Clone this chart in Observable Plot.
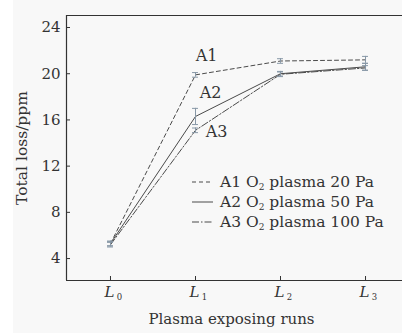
<!DOCTYPE html>
<html><head><meta charset="utf-8">
<script src="https://cdn.jsdelivr.net/npm/d3@7"></script>
<script src="https://cdn.jsdelivr.net/npm/@observablehq/plot@0.6"></script>
<style>
body{margin:0;background:#fff;font-family:"DejaVu Serif",serif;}
#wrap{position:relative;width:402px;height:333px;background:linear-gradient(to right,#fff 0,#fff 13px,#f8f8f8 13px);}
#legend{position:absolute;left:192px;top:172px;font-size:15.5px;color:#333;line-height:20px;}
#legend .row{display:flex;align-items:center;white-space:nowrap;}
#legend svg{margin-right:7px;}
sub{font-size:9px;vertical-align:-3px;line-height:0;}
</style></head><body>
<div id="wrap"><div id="chart"></div><div id="legend"></div></div>
<script>
const runs = [0, 1, 2, 3];
const runSubs = ["0", "1", "2", "3"];
const seriesNames = ["A1", "A2", "A3"];
const legendLabels = [["A1 O", "2", " plasma 20 Pa"], ["A2 O", "2", " plasma 50 Pa"], ["A3 O", "2", " plasma 100 Pa"]];
const a1 = [5.3, 19.9, 21.1, 21.2];
const a2 = [5.3, 16.3, 20.0, 20.6];
const a3 = [5.2, 15.1, 19.95, 20.5];
const a1err = [0.2, 0.2, 0.2, 0.3];
const a2err = [0.2, 0.7, 0.2, 0.3];
const a3err = [0.2, 0.2, 0.2, 0.2];
const yTicks = [4, 8, 12, 16, 20, 24];

const dashes = {A1: "4,3", A2: null, A3: "7,2,1.5,2"};
const vals = {A1: a1, A2: a2, A3: a3};
const errs = {A1: a1err, A2: a2err, A3: a3err};
const rows = seriesNames.flatMap(s => runs.map((r, i) => ({s, x: r, y: vals[s][i], e: errs[s][i]})));

const xDom = [-0.5176, 3.435];
const yDom = [2.1, 25.04];
const ink = "#333";
const lineInk = "#4a4a4a";
const errInk = "#8797a6";
const capW = 0.035;

const labelOff = {A1: [11, -19], A2: [15, -24], A3: [21, 2]};

const marks = [
  ...seriesNames.map(s => Plot.line(rows.filter(d => d.s === s), {x: "x", y: "y", stroke: lineInk, strokeWidth: 1, strokeDasharray: dashes[s]})),
  Plot.ruleX(rows, {x: "x", y1: d => d.y - d.e, y2: d => d.y + d.e, stroke: errInk, strokeWidth: 1}),
  Plot.ruleY(rows, {y: d => d.y - d.e, x1: d => d.x - capW, x2: d => d.x + capW, stroke: errInk, strokeWidth: 1}),
  Plot.ruleY(rows, {y: d => d.y + d.e, x1: d => d.x - capW, x2: d => d.x + capW, stroke: errInk, strokeWidth: 1}),
  ...seriesNames.map(s => Plot.text([s], {x: () => 1, y: () => vals[s][1], text: d => d, dx: labelOff[s][0], dy: labelOff[s][1], fontSize: 16, fill: ink, textAnchor: "middle"})),
  Plot.axisY(yTicks, {tickSize: -4, tickPadding: 10, fontSize: 15, color: ink, label: null}),
  Plot.axisX(runs, {tickSize: -4, tickFormat: () => "", label: null, color: ink}),
  Plot.text(runs, {x: d => d, frameAnchor: "bottom", dy: 16, dx: -1, text: () => "L", fontStyle: "italic", fontSize: 15, fill: ink}),
  Plot.text(runs, {x: d => d, frameAnchor: "bottom", dy: 19, dx: 9, text: (d, i) => runSubs[i], fontSize: 8.5, fill: ink}),
  Plot.ruleX([xDom[0]], {stroke: ink, strokeWidth: 1.2}),
  Plot.ruleY([yDom[0]], {stroke: ink, strokeWidth: 1.2}),
  Plot.ruleY([yDom[1]], {stroke: ink, strokeWidth: 1.2}),
  Plot.text(["Plasma exposing runs"], {frameAnchor: "bottom", dy: 43, dx: -3, text: d => d, fontSize: 15, fill: ink}),
  Plot.text(["Total loss/ppm"], {frameAnchor: "left", dx: -44, rotate: -90, textAnchor: "middle", text: d => d, fontSize: 15.5, fill: ink})
];

const chart = Plot.plot({
  width: 402, height: 333,
  marginLeft: 66, marginRight: 0, marginTop: 15, marginBottom: 53,
  style: {background: "transparent", fontFamily: "'DejaVu Serif', serif"},
  x: {type: "linear", domain: xDom, axis: null},
  y: {domain: yDom, axis: null},
  marks
});
document.getElementById("chart").appendChild(chart);

const leg = document.getElementById("legend");
seriesNames.forEach((s, i) => {
  const row = document.createElement("div");
  row.className = "row";
  const da = dashes[s] ? `stroke-dasharray="${dashes[s]}"` : "";
  row.innerHTML = `<svg width="21" height="10"><line x1="0" x2="21" y1="5" y2="5" stroke="${lineInk}" stroke-width="1" ${da}/></svg><span>${legendLabels[i][0]}<sub>${legendLabels[i][1]}</sub>${legendLabels[i][2]}</span>`;
  leg.appendChild(row);
});
</script>
</body></html>
